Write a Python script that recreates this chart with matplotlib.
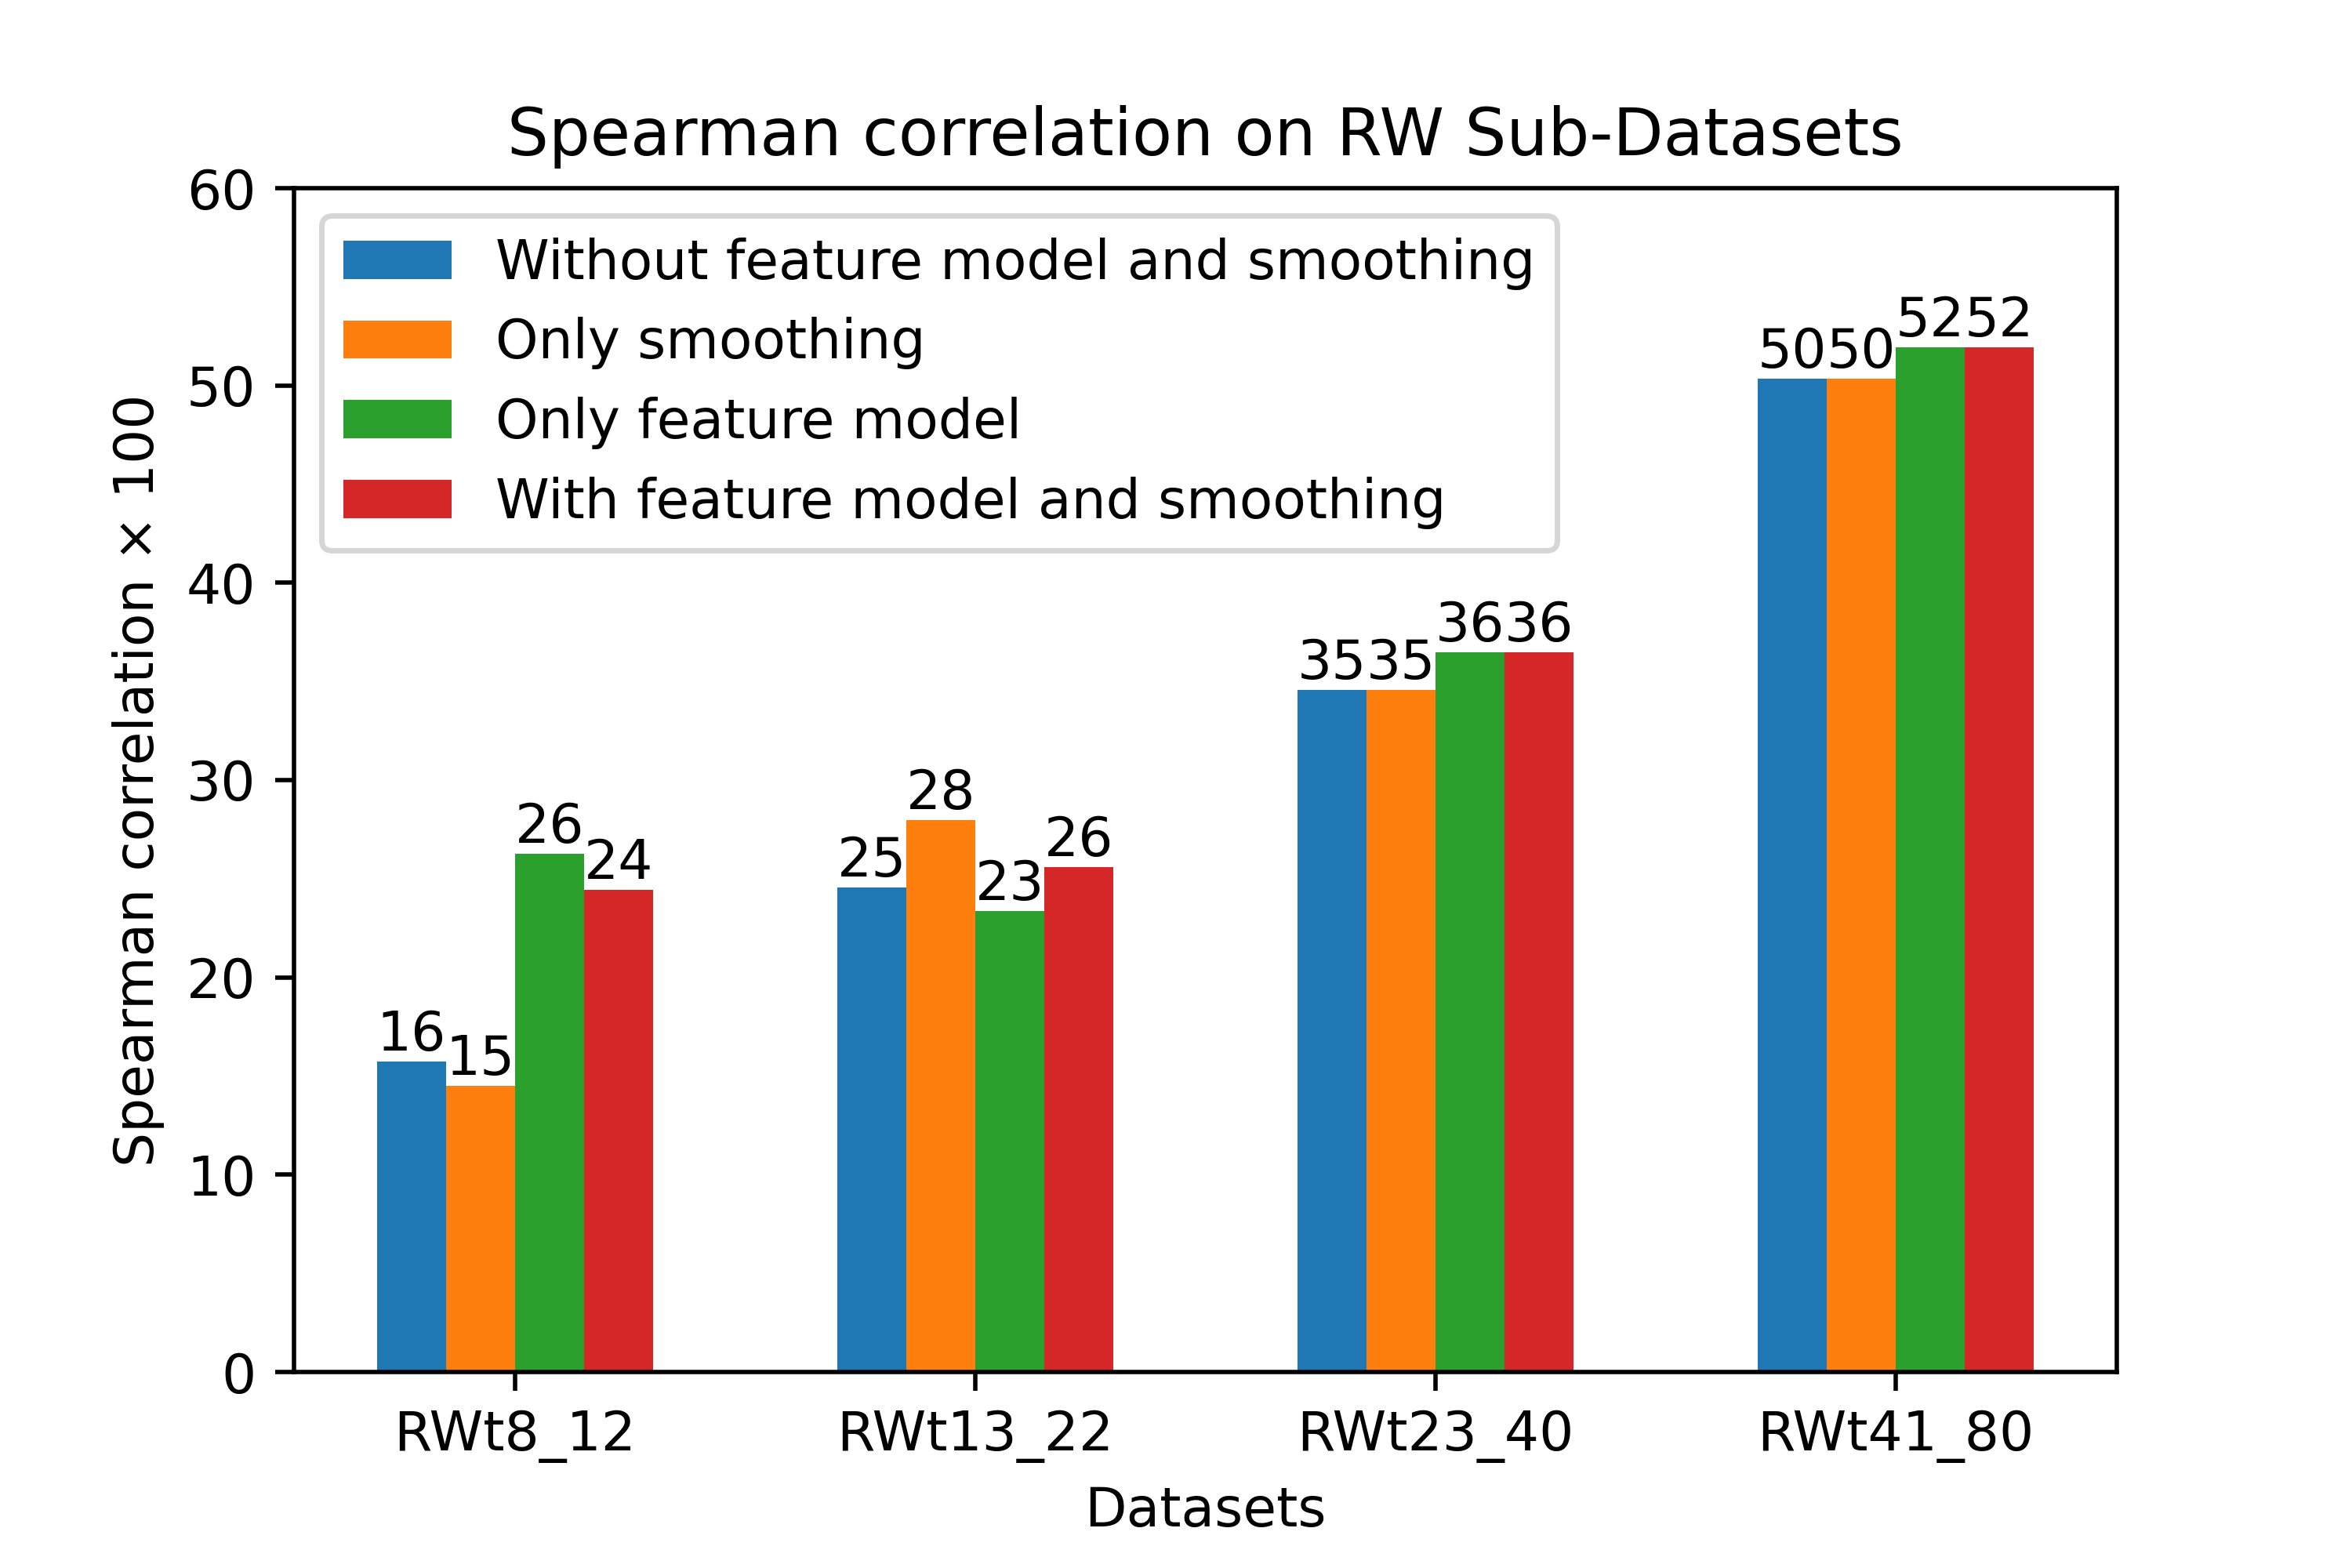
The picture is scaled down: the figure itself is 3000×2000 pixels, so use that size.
import matplotlib
matplotlib.use("Agg")
import matplotlib.pyplot as plt
import numpy as np

datasets = ["RWt8_12", "RWt13_22", "RWt23_40", "RWt41_80"]
series_names = ["Without feature model and smoothing", "Only smoothing",
                "Only feature model", "With feature model and smoothing"]
without_both = [15.75, 24.55, 34.55, 50.34]
only_smoothing = [14.52, 27.99, 34.55, 50.34]
only_feature = [26.25, 23.38, 36.47, 51.93]
with_both = [24.45, 25.6, 36.47, 51.93]
colors = ["#1f77b4", "#ff7f0e", "#2ca02c", "#d62728"]

fig, ax = plt.subplots(figsize=(6, 4), dpi=500)
fig.subplots_adjust(left=0.125, right=0.9, bottom=0.125, top=0.88)

x = np.arange(len(datasets))
w = 0.15
all_series = [without_both, only_smoothing, only_feature, with_both]
for i, (vals, name, c) in enumerate(zip(all_series, series_names, colors)):
    pos = x + (i - 1.5) * w
    bars = ax.bar(pos, vals, w, label=name, color=c)
    for p, v in zip(pos, vals):
        ax.text(p, v, "%.0f" % v, ha="center", va="bottom", fontsize=10)

ax.set_xticks(x)
ax.set_xticklabels(datasets)
ax.set_ylim(0, 60)
ax.set_xlabel("Datasets")
ax.set_ylabel("Spearman correlation × 100")
ax.set_title("Spearman correlation on RW Sub-Datasets")
ax.legend(loc="upper left")

fig.savefig("out.png", dpi=500)
